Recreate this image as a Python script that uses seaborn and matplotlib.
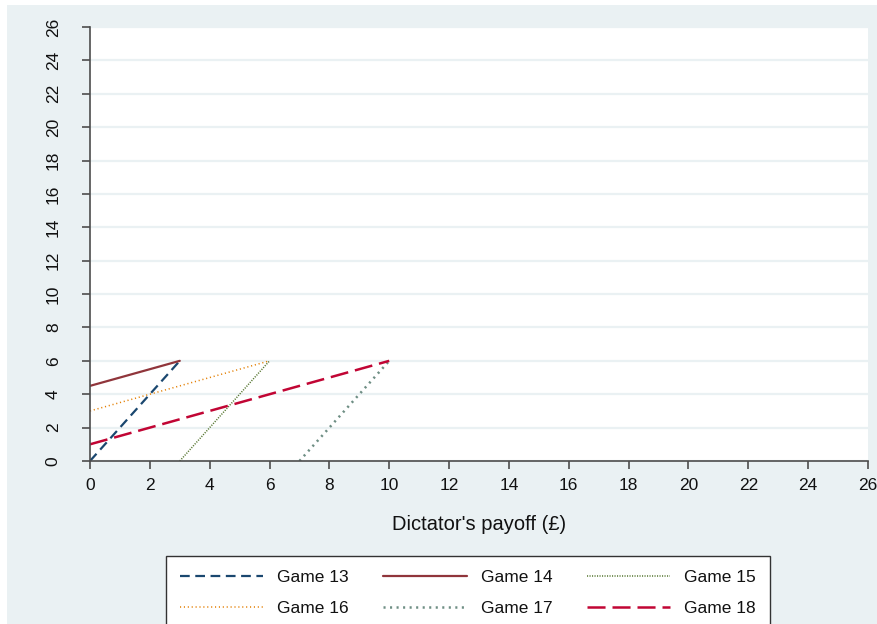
import pandas as pd
import numpy as np
import matplotlib
matplotlib.use("Agg")
import matplotlib.pyplot as plt
import seaborn as sns
from matplotlib.patches import Rectangle

# line segments per game: (dictator payoff, recipient payoff) at start and end
games = ["Game 13", "Game 14", "Game 15", "Game 16", "Game 17", "Game 18"]
x_start = [0, 0, 3, 0, 7, 0]
y_start = [0, 4.5, 0, 3, 0, 1]
x_end = [3, 3, 6, 6, 10, 10]
y_end = [6, 6, 6, 6, 6, 6]

colors = ["#1a476f", "#90353b", "#55752f", "#e37e00", "#6e8e84", "#c10534"]
styles = [(0, (7, 4)), "-", (0, (0.8, 1.0)), (0, (0.8, 2.0)), (0, (1.5, 3.2)), (0, (13, 5))]
widths = [1.6, 1.6, 1.1, 1.1, 1.8, 1.8]

BG = "#eaf1f3"

sns.set_style("white")
plt.rcParams["font.family"] = ["Liberation Sans", "DejaVu Sans"]
plt.rcParams["lines.scale_dashes"] = False

rows = []
for g, xs, ys, xe, ye in zip(games, x_start, y_start, x_end, y_end):
    rows.append({"game": g, "x": xs, "y": ys})
    rows.append({"game": g, "x": xe, "y": ye})
df = pd.DataFrame(rows)

fig = plt.figure(figsize=(8.77, 6.24), dpi=100, facecolor="white")
fig.patches.append(Rectangle((7 / 877, 0), 1, 1 - 5 / 624, transform=fig.transFigure,
                             facecolor=BG, edgecolor="none", zorder=-5))
ax = fig.add_axes([90 / 877, 1 - 461 / 624, (868 - 90) / 877, (461 - 27) / 624])
ax.set_zorder(2)
ax.set_facecolor("white")

for g, c, ls, lw in zip(games, colors, styles, widths):
    sns.lineplot(data=df[df["game"] == g], x="x", y="y", color=c, linestyle=ls,
                 linewidth=lw, label=g, ax=ax, sort=False, estimator=None)

ax.set_xlim(0, 26)
ax.set_ylim(0, 26)
ticks = np.arange(0, 27, 2)
ax.set_xticks(ticks)
ax.set_yticks(ticks)
ax.yaxis.grid(True, color=BG, linewidth=1.6)
ax.xaxis.grid(False)
ax.set_axisbelow(True)

for s in ["top", "right"]:
    ax.spines[s].set_visible(False)
for s in ["left", "bottom"]:
    ax.spines[s].set_color("#4d4d4d")
    ax.spines[s].set_linewidth(1.2)

ax.tick_params(axis="both", direction="out", length=6, width=1.2, color="#4d4d4d",
               labelsize=12.5, left=True, bottom=True, labelcolor="#111111")
ax.tick_params(axis="x", pad=6)
ax.tick_params(axis="y", pad=15)
plt.setp(ax.get_yticklabels(), rotation=90, va="center")
ax.set_xlabel("Dictator's payoff (£)", fontsize=14.5, labelpad=16, color="#111111")
ax.set_ylabel("")

handles, labels = ax.get_legend_handles_labels()
ax.get_legend().remove()
# legend fills row by row in the reference: reorder for column-major filling
order = [0, 3, 1, 4, 2, 5]
leg = fig.legend([handles[i] for i in order], [labels[i] for i in order], ncol=3,
                 loc="upper left", bbox_to_anchor=(166 / 877, 1 - 556 / 624), fontsize=12.5,
                 frameon=True, fancybox=False, edgecolor="#333333", framealpha=1,
                 handlelength=4.8, handletextpad=0.8, columnspacing=2.0,
                 borderpad=0.8, labelspacing=0.9, borderaxespad=0)
leg.get_frame().set_linewidth(1.0)
leg.get_frame().set_facecolor("white")
leg.set_zorder(3)
for t in leg.get_texts():
    t.set_color("#111111")

fig.savefig("out.png", dpi=100, facecolor=fig.get_facecolor())
